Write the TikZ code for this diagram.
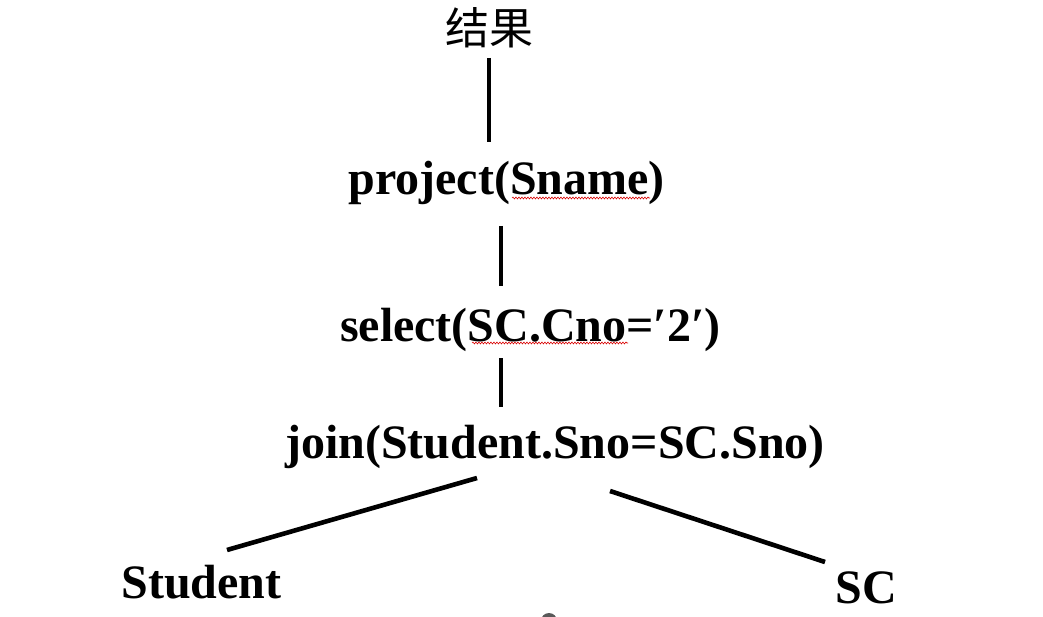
\documentclass[tikz,border=0pt]{standalone}
\usepackage{fontspec}
\setmainfont{Liberation Serif}
\newfontfamily\cjk{Noto Sans CJK SC}
\usetikzlibrary{decorations.pathmorphing}
\begin{document}
\begin{tikzpicture}[x=1pt,y=-1pt,
  lbl/.style={anchor=base,inner sep=0pt,font=\bfseries\fontsize{48}{58}\selectfont},
  edge/.style={line width=4.6pt},
  spell/.style={draw=red!85!black,line width=0.6pt,decorate,decoration={snake,amplitude=0.9pt,segment length=3pt}}]
\clip (0,0) rectangle (1043,617);
\fill[white] (0,0) rectangle (1043,617);
% nodes
\node[anchor=base,inner sep=0pt,font=\cjk\fontsize{44}{52}\selectfont] (res) at (489,45) {结果};
\node[lbl] (proj) at (506.5,195) {project(Sname)};
\node[lbl] (sel) at (530.5,341) {select(SC.Cno=′2′)};
\node[lbl] (join) at (555,458) {join(Student.Sno=SC.Sno)};
\node[lbl] (stu) at (201.5,598) {Student};
\node[lbl] (sc) at (866,603) {SC};
% connector end points
\coordinate (a1) at (489,58);  \coordinate (a2) at (489,142);
\coordinate (b1) at (501,226); \coordinate (b2) at (501,286);
\coordinate (c1) at (501,358); \coordinate (c2) at (501,407);
\coordinate (d1) at (477,478); \coordinate (d2) at (227,550);
\coordinate (e1) at (610,491); \coordinate (e2) at (825,562);
\draw[edge] (a1) -- (a2);
\draw[edge] (b1) -- (b2);
\draw[edge] (c1) -- (c2);
\draw[edge] (d1) -- (d2);
\draw[edge] (e1) -- (e2);
% spell-check underlines
\coordinate (u1) at (512,198); \coordinate (u2) at (650,198);
\coordinate (v1) at (472,343); \coordinate (v2) at (628,343);
\draw[spell] (u1) -- (u2);
\draw[spell] (v1) -- (v2);
% small grey mark at bottom edge
\fill[black!65] (549,621) circle (8);
\end{tikzpicture}
\end{document}
